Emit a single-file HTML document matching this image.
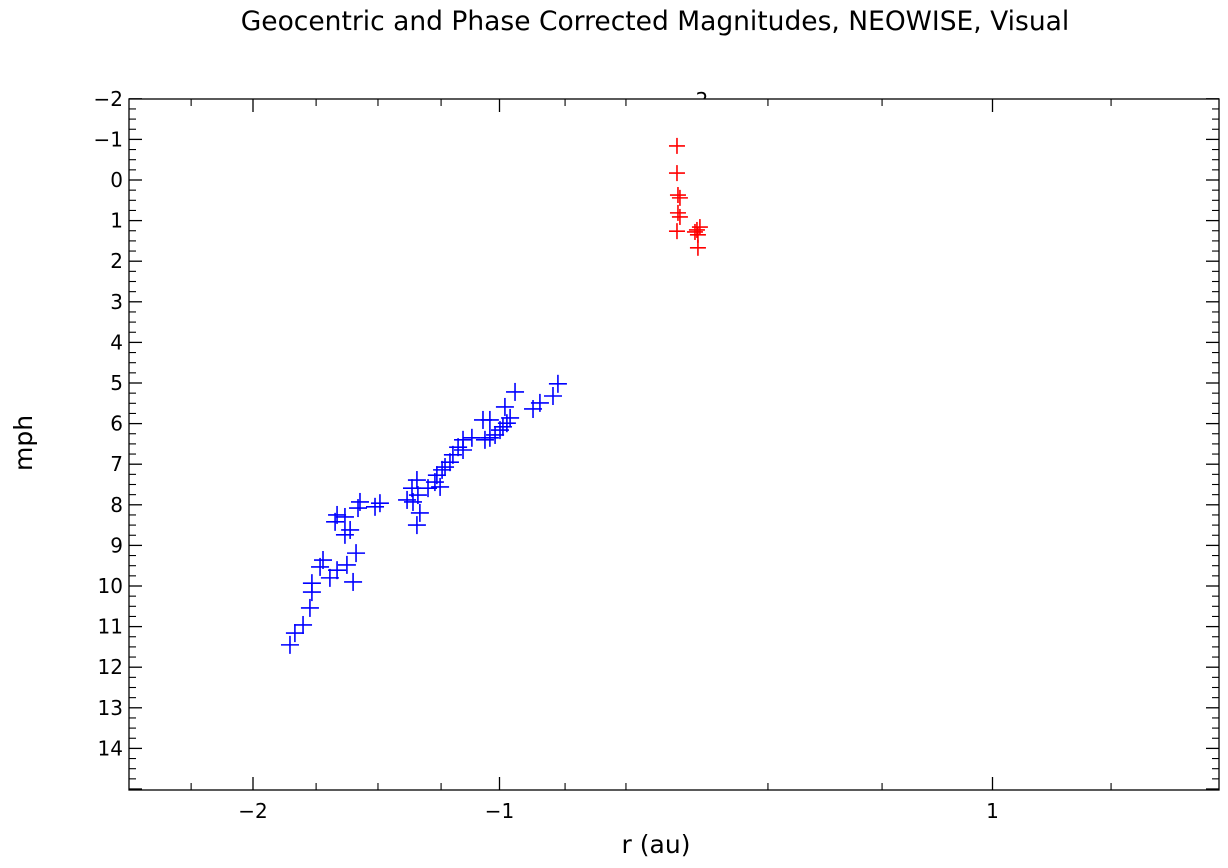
<!DOCTYPE html>
<html><head><meta charset="utf-8"><style>
body{margin:0;background:#fff;}
svg{display:block;font-family:"DejaVu Sans","Liberation Sans",sans-serif;}
</style></head><body>
<svg id="chart" width="1228" height="868" viewBox="0 0 1228 868">
<text x="655" y="30" font-size="26.5" text-anchor="middle">Geocentric and Phase Corrected Magnitudes, NEOWISE, Visual</text>
<text x="656" y="853" font-size="25" text-anchor="middle">r (au)</text>
<text transform="translate(32,443) rotate(-90)" font-size="25" text-anchor="middle">mph</text>
<defs><clipPath id="topclip"><rect x="680" y="80" width="50" height="19"/></clipPath></defs>
<text x="702" y="107" font-size="20" text-anchor="middle" clip-path="url(#topclip)">2</text>
<g id="ticks"></g>
<g id="marks"></g>
<rect x="129" y="99" width="1090" height="691" fill="none" stroke="#000" stroke-width="1.3"/>
</svg>
<script>
const xMajor=[-2,-1,1];
const xMinor=[-2.251,-1.744,-1.493,-1.237,-0.734,-0.487,0.089,0.552,1.481];
const yTickLabels=[-2,-1,0,1,2,3,4,5,6,7,8,9,10,11,12,13,14];
const blueX=[-0.763,-0.937,-0.783,-0.836,-0.864,-0.978,-1.067,-1.039,-0.957,-0.970,-0.986,-0.998,-1.018,-1.039,-1.059,-1.112,-1.148,-1.168,-1.148,-1.189,-1.201,-1.221,-1.233,-1.254,-1.262,-1.241,-1.290,-1.335,-1.355,-1.331,-1.375,-1.351,-1.323,-1.335,-1.485,-1.505,-1.566,-1.574,-1.659,-1.627,-1.667,-1.606,-1.627,-1.582,-1.716,-1.728,-1.659,-1.619,-1.688,-1.594,-1.761,-1.761,-1.769,-1.797,-1.830,-1.850];
const blueY=[5.02,5.22,5.32,5.49,5.64,5.59,5.91,5.91,5.86,5.99,6.08,6.16,6.28,6.35,6.40,6.35,6.40,6.58,6.65,6.77,6.95,7.07,7.14,7.27,7.44,7.56,7.59,7.39,7.59,7.76,7.88,7.93,8.20,8.50,7.96,8.05,7.93,8.08,8.25,8.30,8.42,8.62,8.74,9.19,9.36,9.53,9.61,9.48,9.80,9.90,9.93,10.15,10.54,10.96,11.16,11.45];
const redX=[-0.280,-0.280,-0.276,-0.268,-0.276,-0.268,-0.280,-0.187,-0.199,-0.195,-0.195,-0.207];
const redY=[-0.84,-0.17,0.37,0.44,0.81,0.91,1.26,1.16,1.23,1.35,1.67,1.28];

const X0=129,X1=1219,Y0=99,Y1=790;
function xs(v){return 746+v*246.5;}
function ys(v){return 180+v*40.6;}
const NS='http://www.w3.org/2000/svg';
const tg=document.getElementById('ticks'),mg=document.getElementById('marks');
function line(g,x1,y1,x2,y2,c,w){const l=document.createElementNS(NS,'line');l.setAttribute('x1',x1);l.setAttribute('y1',y1);l.setAttribute('x2',x2);l.setAttribute('y2',y2);l.setAttribute('stroke',c);l.setAttribute('stroke-width',w);g.appendChild(l);return l;}
function txt(g,x,y,s,a){const t=document.createElementNS(NS,'text');t.setAttribute('x',x);t.setAttribute('y',y);t.setAttribute('font-size','20');t.setAttribute('text-anchor',a);t.textContent=s;g.appendChild(t);return t;}
function lab(v){return v<0?'\u2212'+Math.abs(v):String(v);}
xMajor.forEach(v=>{const x=xs(v);
 let l=line(tg,x,Y1,x,Y1-13,'#000',1.3);
 
 
 line(tg,x,Y0,x,Y0+13,'#000',1.3);
 const t=txt(tg,x,Y1+28,lab(v),'middle');
 
 
});
xMinor.forEach(v=>{const x=xs(v);
 const l=line(tg,x,Y1,x,Y1-7,'#000',1.1);
 
 
 line(tg,x,Y0,x,Y0+7,'#000',1.1);
});
for(let v=-2;v<=15;v+=0.25){const y=ys(v);if(y>Y1+0.5)break;
 const maj=Math.abs(v-Math.round(v))<1e-6;const L=maj?13:7;
 const l=line(tg,X0,y,X0+L,y,'#000',maj?1.3:1.1);
 
 
 line(tg,X1,y,X1-L,y,'#000',maj?1.3:1.1);
}
yTickLabels.forEach(v=>{
 const t=txt(tg,X0-6,ys(v)+7,lab(v),'end');
 
 
});
function plus(x,y,h,c,name){const g=document.createElementNS(NS,'g');
 line(g,x-h,y,x+h,y,c,1.6);line(g,x,y-h,x,y+h,c,1.6);
 
 
 mg.appendChild(g);}
blueX.forEach((v,i)=>plus(xs(v),ys(blueY[i]),9,'#0000ff','blue-point'));
redX.forEach((v,i)=>plus(xs(v),ys(redY[i]),8,'#ff0000','red-point'));
</script>
</body></html>
